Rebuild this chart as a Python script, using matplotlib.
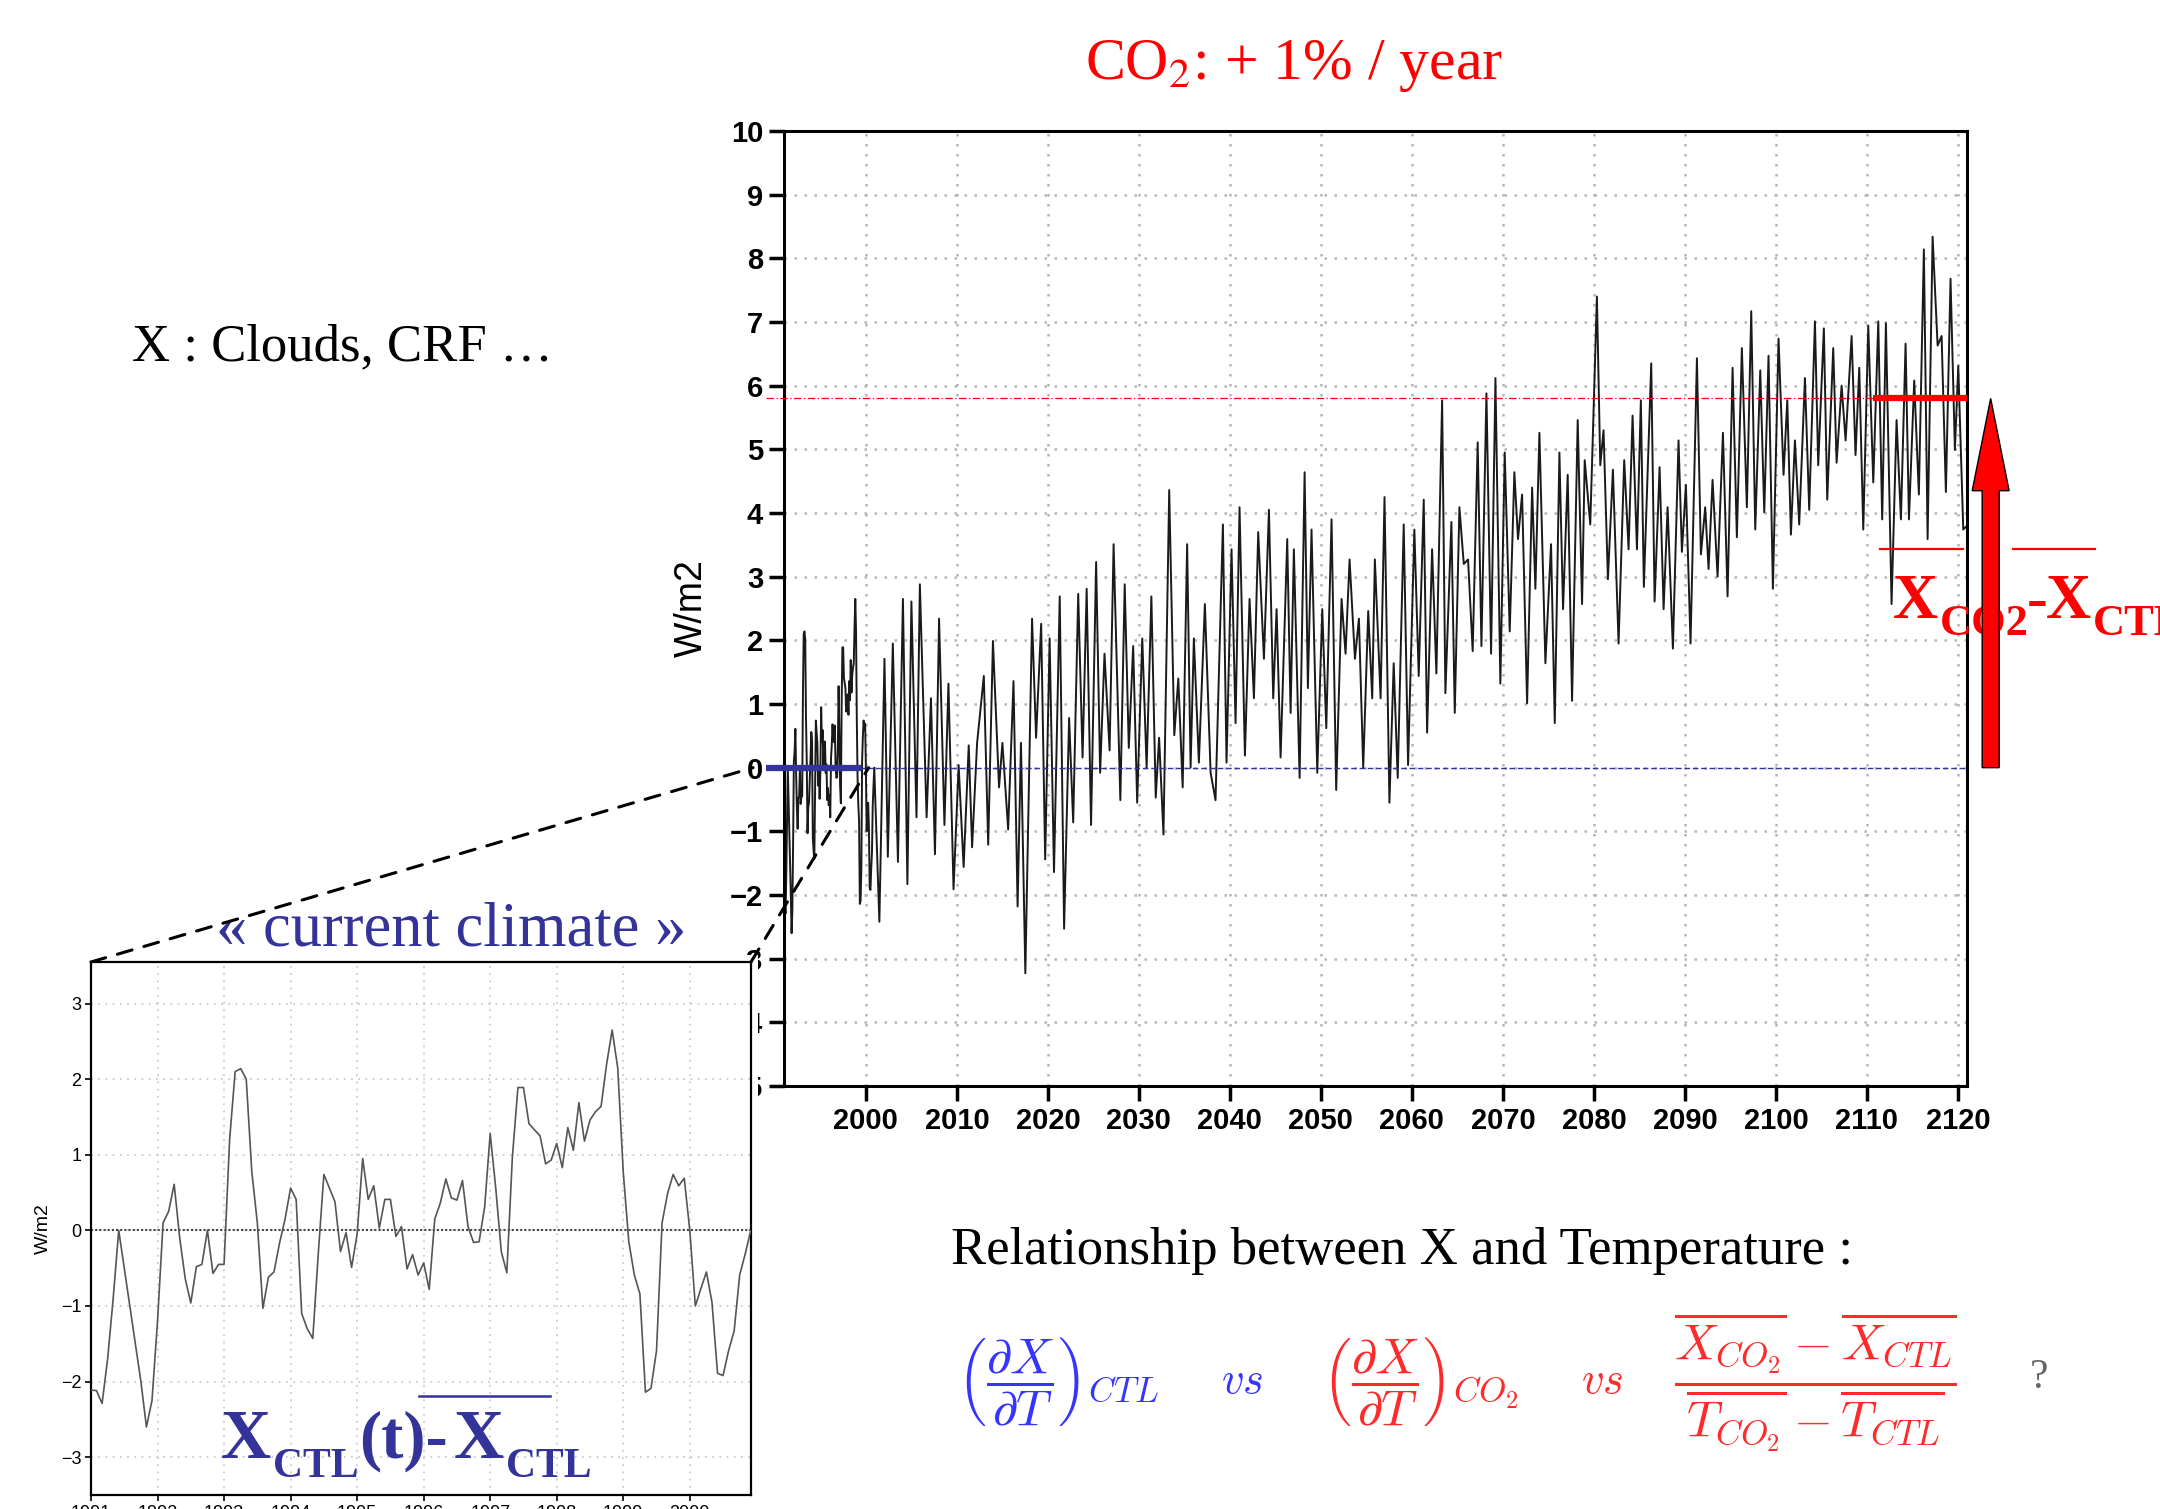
import numpy as np
import matplotlib.pyplot as plt
import matplotlib.transforms as mtransforms
from matplotlib.patches import FancyArrow, ConnectionPatch, Rectangle
from matplotlib.lines import Line2D

# --- data ---
# control run, monthly anomalies 1991-2000 (inset), W/m2
ctl_vals = [
    -2.11, -2.12, -2.29, -1.70, -0.90, 0.00, -0.50, -1.00, -1.50, -2.00, -2.60, -2.25,
    -1.20, 0.10, 0.25, 0.61, -0.10, -0.64, -0.96, -0.48, -0.45, 0.00, -0.57, -0.45,
    -0.45, 1.20, 2.10, 2.14, 2.00, 0.78, 0.10, -1.03, -0.62, -0.55, -0.17, 0.15,
    0.56, 0.41, -1.10, -1.30, -1.43, -0.30, 0.74, 0.56, 0.38, -0.28, -0.03, -0.49,
    -0.05, 0.95, 0.41, 0.59, 0.03, 0.41, 0.41, -0.08, 0.05, -0.51, -0.32, -0.59,
    -0.43, -0.78, 0.15, 0.36, 0.68, 0.43, 0.40, 0.66, 0.05, -0.16, -0.15, 0.31,
    1.28, 0.56, -0.28, -0.56, 0.97, 1.89, 1.89, 1.41, 1.33, 1.25, 0.88, 0.93,
    1.15, 0.83, 1.36, 1.06, 1.69, 1.18, 1.46, 1.57, 1.64, 2.20, 2.65, 2.15,
    0.77, -0.15, -0.59, -0.84, -2.14, -2.09, -1.59, 0.10, 0.49, 0.74, 0.59, 0.69,
    0.00, -1.00, -0.77, -0.55, -0.95, -1.89, -1.92, -1.59, -1.33, -0.59, -0.31, 0.00,
]
ctl_start = 1991

# CO2 +1%/yr run after 2001 (peaks and troughs)
scen_years = [
    2001.48, 2002.04, 2002.41, 2002.96, 2003.52, 2004.07, 2004.56, 2005.00, 2005.56, 2005.93,
    2006.67, 2007.15, 2007.59, 2008.04, 2008.63, 2009.07, 2009.63, 2010.19, 2010.74, 2011.30,
    2011.67, 2012.22, 2012.96, 2013.44, 2013.96, 2014.63, 2015.00, 2015.63, 2016.22, 2016.67,
    2017.04, 2017.52, 2018.26, 2018.70, 2019.26, 2019.70, 2020.19, 2020.67, 2021.30, 2021.78,
    2022.33, 2022.78, 2023.33, 2023.81, 2024.26, 2024.74, 2025.30, 2025.74, 2026.22, 2026.78,
    2027.22, 2027.96, 2028.44, 2028.89, 2029.37, 2029.81, 2030.37, 2030.85, 2031.37, 2031.85,
    2032.22, 2032.70, 2033.33, 2033.89, 2034.33, 2034.81, 2035.30, 2035.68, 2036.04, 2036.59,
    2037.25, 2037.88, 2038.42, 2039.23, 2039.63, 2040.18, 2040.62, 2041.06, 2041.65, 2042.16,
    2042.64, 2043.11, 2043.74, 2044.29, 2044.76, 2045.13, 2045.57, 2046.30, 2046.67, 2047.03,
    2047.66, 2048.21, 2048.57, 2048.97, 2049.60, 2050.15, 2050.59, 2051.17, 2051.68, 2052.27,
    2052.71, 2053.15, 2053.74, 2054.18, 2054.65, 2055.20, 2055.64, 2055.93, 2056.56, 2056.99,
    2057.53, 2058.00, 2058.44, 2059.10, 2059.58, 2060.27, 2060.75, 2061.30, 2061.67, 2062.22,
    2062.69, 2063.32, 2063.68, 2064.34, 2064.71, 2065.22, 2065.70, 2066.17, 2066.68, 2067.23,
    2067.64, 2068.19, 2068.70, 2069.18, 2069.72, 2070.20, 2070.75, 2071.26, 2071.66, 2072.11,
    2072.66, 2073.21, 2073.57, 2074.01, 2074.67, 2075.29, 2075.70, 2076.21, 2076.61, 2077.12,
    2077.60, 2078.22, 2078.70, 2078.99, 2079.60, 2080.33, 2080.70, 2081.06, 2081.54, 2082.09,
    2082.71, 2083.33, 2083.81, 2084.25, 2084.73, 2085.16, 2085.49, 2086.30, 2086.67, 2087.22,
    2087.66, 2088.10, 2088.68, 2089.30, 2089.67, 2090.11, 2090.62, 2091.32, 2091.76, 2092.23,
    2092.60, 2093.04, 2093.59, 2094.18, 2094.69, 2095.24, 2095.71, 2096.26, 2096.81, 2097.29,
    2097.73, 2098.28, 2098.72, 2099.19, 2099.67, 2100.29, 2100.84, 2101.25, 2101.65, 2102.09,
    2102.56, 2103.19, 2103.66, 2104.29, 2104.65, 2105.27, 2105.64, 2106.30, 2106.67, 2107.22,
    2107.66, 2108.32, 2108.75, 2109.16, 2109.60, 2110.15, 2110.70, 2111.25, 2111.68, 2112.09,
    2112.71, 2113.26, 2113.74, 2114.25, 2114.62, 2115.20, 2115.71, 2116.26, 2116.67, 2117.22,
    2117.77, 2118.21, 2118.68, 2119.19, 2119.67, 2120.04, 2120.59, 2121.00,
]
scen_vals = [
    -2.42, 1.71, -1.40, 1.95, -1.48, 2.65, -1.83, 2.61, -0.78, 2.88,
    -0.78, 1.09, -1.36, 2.34, -0.90, 1.32, -1.91, 0.04, -1.56, 0.35,
    -1.25, 0.39, 1.44, -1.21, 1.99, -0.31, 0.39, -0.97, 1.36, -2.18,
    0.39, -3.23, 2.34, 0.47, 2.26, -1.44, 2.03, -1.64, 2.69, -2.53,
    0.78, -0.86, 2.73, 0.16, 2.81, -0.90, 3.23, -0.08, 1.79, 0.27,
    3.51, -0.51, 2.88, 0.31, 1.91, -0.55, 2.03, 0.00, 2.69, -0.47,
    0.47, -1.05, 4.36, 0.51, 1.40, -0.31, 3.51, 0.00, 2.03, 0.08,
    2.57, -0.08, -0.51, 3.82, 0.08, 3.43, 0.70, 4.09, 0.19, 2.65,
    1.09, 3.70, 1.71, 4.05, 1.09, 2.49, 0.16, 3.59, 0.86, 3.43,
    -0.16, 4.64, 1.25, 3.74, -0.08, 2.49, 0.62, 3.90, -0.35, 2.65,
    1.79, 3.27, 1.71, 2.34, 0.00, 2.46, 1.09, 3.27, 1.09, 4.25,
    -0.55, 1.64, -0.16, 3.82, 0.04, 3.74, 1.44, 4.21, 0.55, 3.43,
    1.48, 5.77, 1.17, 3.86, 0.86, 4.09, 3.20, 3.27, 1.83, 5.11,
    1.91, 5.88, 1.79, 6.12, 1.32, 4.95, 2.14, 4.64, 3.59, 4.29,
    1.01, 4.40, 2.81, 5.26, 1.64, 3.51, 0.70, 4.95, 2.49, 4.60,
    1.05, 5.46, 2.57, 4.83, 3.82, 7.40, 4.75, 5.30, 2.96, 4.68,
    1.95, 4.83, 3.43, 5.53, 3.43, 5.77, 2.84, 6.35, 2.61, 4.72,
    2.49, 4.09, 1.87, 5.14, 3.39, 4.44, 1.95, 6.43, 3.35, 4.09,
    3.12, 4.52, 3.00, 5.26, 2.69, 6.28, 3.62, 6.59, 4.09, 7.17,
    3.74, 6.24, 4.01, 6.47, 2.81, 6.74, 4.60, 5.77, 3.66, 5.14,
    3.82, 6.12, 4.05, 7.01, 4.75, 6.90, 4.21, 6.59, 4.79, 6.00,
    5.14, 6.78, 4.91, 6.28, 3.74, 6.94, 4.48, 7.01, 3.90, 6.98,
    2.57, 5.46, 3.90, 6.66, 3.90, 6.08, 4.29, 8.14, 3.59, 8.34,
    6.63, 6.78, 4.33, 7.68, 4.99, 6.31, 3.74, 3.80,
]

ctl_mean = 0.0
co2_mean = 5.8
ctl_bar = [1989.0, 1999.5]
co2_bar = [2110.7, 2121.0]
main_xticks = list(range(2000, 2121, 10))
main_yticks = list(range(-5, 11))
inset_xticks = list(range(1991, 2001))
inset_yticks = list(range(-3, 4))

W, H = 2160, 1509
serif = ['Liberation Serif', 'DejaVu Serif']
plt.rcParams['font.family'] = ['Liberation Sans', 'DejaVu Sans']
navy = '#333399'

fig = plt.figure(figsize=(W / 100, H / 100), dpi=100)
# pixel transform (origin top-left) for slide annotations
px = mtransforms.Affine2D().scale(1 / W, -1 / H).translate(0, 1) + fig.transFigure

ctl_years = ctl_start + np.arange(len(ctl_vals)) / 12.0

# --- main panel ---
ax = fig.add_axes([784 / W, 1 - 1086 / H, 1183 / W, 955 / H])
ax.set_zorder(0)
ax.plot(np.concatenate([ctl_years, scen_years]), np.concatenate([ctl_vals, scen_vals]),
        color='#1a1a1a', lw=1.4, zorder=2)
ax.set_xlim(1991, 2121)
ax.set_ylim(-5, 10)
ax.set_xticks(main_xticks)
ax.set_yticks(main_yticks)
ax.grid(True, color='#b5b5b5', linestyle=(0, (1, 3)), lw=1.8)
ax.tick_params(direction='out', length=11, width=2.5, pad=4, labelsize=21)
for lab in ax.get_xticklabels() + ax.get_yticklabels():
    lab.set_fontweight('bold')
for sp in ax.spines.values():
    sp.set_linewidth(2.2)
ax.set_ylabel('W/m2', fontsize=27)
ax.yaxis.set_label_coords(-0.063, 0.5)

ax.plot([1991, 2121], [ctl_mean, ctl_mean], color=navy, lw=1.0, ls=(0, (4, 2)), zorder=3)
ax.plot([ctl_bar[0], 2121], [co2_mean, co2_mean], color='red', lw=0.9,
        ls=(0, (6, 2, 1, 2)), zorder=3, clip_on=False)
ax.plot(ctl_bar, [ctl_mean, ctl_mean], color=navy, lw=4.5, zorder=4, clip_on=False,
        solid_capstyle='butt')
ax.plot(co2_bar, [co2_mean, co2_mean], color='red', lw=4.5, zorder=4, clip_on=False,
        solid_capstyle='butt')

# white backing of the pasted inset, hides most of the lowest main tick labels
fig.add_artist(Rectangle((700, 955), 58, 150, transform=px, facecolor='white',
                         edgecolor='none', zorder=0.5))

# --- inset: current climate ---
axi = fig.add_axes([91 / W, 1 - 1495 / H, 660 / W, 533 / H])
axi.set_zorder(1)
axi.set_facecolor('white')
axi.plot(ctl_years, ctl_vals, color='#555555', lw=1.2, zorder=3)
axi.axhline(0, color='#444444', lw=1.5, ls=(0, (1, 1)), zorder=2)
axi.set_xlim(1991, 2000.92)
axi.set_ylim(-3.5, 3.55)
axi.set_xticks(inset_xticks)
axi.set_yticks(inset_yticks)
axi.grid(True, color='#cccccc', linestyle=(0, (1, 3)), lw=1.3)
axi.tick_params(direction='out', length=4, width=1.2, pad=3, labelsize=13)
for sp in axi.spines.values():
    sp.set_linewidth(1.6)
axi.set_ylabel('W/m2', fontsize=14)
axi.yaxis.set_label_coords(-0.059, 0.5)

# zoom connectors
for xa, xb in [(0, 1987.6), (1, 2000.3)]:
    con = ConnectionPatch(xyA=(xa, 1), coordsA=axi.transAxes, xyB=(xb, ctl_mean),
                          coordsB=ax.transData, color='black', lw=2.2, ls=(0, (5, 4)),
                          zorder=4)
    fig.add_artist(con)

# --- slide texts ---
fig.text(1294, 66, 'CO$_2$: + 1% / year', transform=px, ha='center', va='center',
         fontsize=43, color='red', family=serif, math_fontfamily='stix')
fig.text(132, 347, 'X : Clouds, CRF \u2026', transform=px, ha='left', va='center',
         fontsize=38, family=serif)
fig.text(451, 930, '\u00ab current climate \u00bb', transform=px, ha='center', va='center',
         fontsize=45, family=serif, color=navy)
fig.text(951, 1251, 'Relationship between X and Temperature :', transform=px, ha='left',
         va='center', fontsize=38, family=serif)

# X_CTL(t) - mean(X_CTL) in the inset
for x, y, s, fs in [(221, 1458, 'X', 50), (273, 1477, 'CTL', 30), (359, 1458, '(t)-', 48),
                    (454, 1458, 'X', 50), (506, 1477, 'CTL', 30)]:
    fig.text(x, y, s, transform=px, ha='left', va='baseline', fontsize=fs,
             fontweight='bold', family=serif, color=navy, zorder=5)
fig.add_artist(Line2D([419, 550], [1396, 1396], transform=px, color=navy, lw=1.8, zorder=5))

# mean(X_CO2) - mean(X_CTL) next to the arrow
for x, y, s, fs in [(1893, 618, 'X', 45), (1940, 635, 'CO2', 32), (2027, 618, '-', 45),
                    (2046, 618, 'X', 45), (2093, 635, 'CTL', 32)]:
    fig.text(x, y, s, transform=px, ha='left', va='baseline', fontsize=fs,
             fontweight='bold', family=serif, color='red', zorder=5)
for x0, x1 in [(1880, 1963), (2013, 2095)]:
    fig.add_artist(Line2D([x0, x1], [549, 549], transform=px, color='red', lw=1.6, zorder=5))

arrow = FancyArrow(2123.6, ctl_mean, 0, co2_mean - ctl_mean, width=1.87, head_width=4.06,
                   head_length=1.45, length_includes_head=True, fc='red', ec='black',
                   lw=1.0, transform=ax.transData, zorder=6)
fig.add_artist(arrow)

# formulas
blue, red = '#3535ff', '#ff2a2a'
fsz = 36
fig.text(957, 1382, r'$\left(\dfrac{\partial X}{\partial T}\right)_{CTL}$', transform=px,
         ha='left', va='center', fontsize=fsz, color=blue, math_fontfamily='cm')
fig.text(1242, 1382, r'$vs$', transform=px, ha='center', va='center', fontsize=32,
         color=blue, math_fontfamily='cm')
fig.text(1322, 1382, r'$\left(\dfrac{\partial X}{\partial T}\right)_{CO_2}$', transform=px,
         ha='left', va='center', fontsize=fsz, color=red, math_fontfamily='cm')
fig.text(1602, 1382, r'$vs$', transform=px, ha='center', va='center', fontsize=32,
         color=red, math_fontfamily='cm')
fig.text(1674, 1382,
         r'$\dfrac{\overline{X_{CO_2}}-\overline{X_{CTL}}}{\overline{T_{CO_2}}-\overline{T_{CTL}}}$',
         transform=px, ha='left', va='center', fontsize=fsz, color=red, math_fontfamily='cm')
fig.text(2039, 1378, '?', transform=px, ha='center', va='center', fontsize=30,
         color='#666666', family=serif)

fig.savefig('out.png', dpi=100)
